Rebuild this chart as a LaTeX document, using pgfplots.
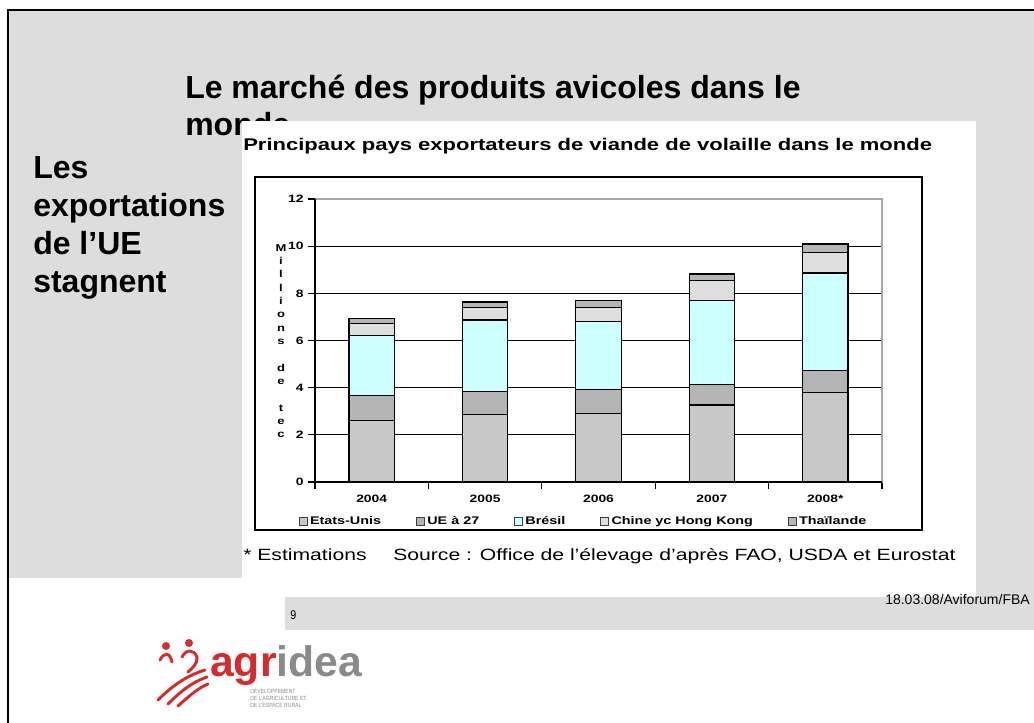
\documentclass[border=0pt]{standalone}
\usepackage{fontspec}
\setmainfont{Liberation Sans}
\newfontfamily\chartfont[FakeStretch=1.3]{Liberation Sans}
\newfontfamily\narrowfont[FakeStretch=0.85]{Liberation Sans}
\usepackage{pgfplots}
\pgfplotsset{compat=1.18}
\definecolor{slidegray}{HTML}{DDDDDD}
\definecolor{cUS}{HTML}{C8C8C8}
\definecolor{cUE}{HTML}{B4B4B4}
\definecolor{cBR}{HTML}{CCFFFF}
\definecolor{cCN}{HTML}{DEDEDE}
\definecolor{cTH}{HTML}{B6B6B6}
\definecolor{logored}{HTML}{D52B2B}
\definecolor{logogray}{HTML}{8A8A8A}
\begin{document}
\begin{tikzpicture}[x=0.75pt,y=-0.75pt]
\fill[white] (0,0) rectangle (1034,722);
\useasboundingbox (0,0) rectangle (1034,722);
% slide background
\fill[slidegray] (8,10) rectangle (1034,578);
\fill[slidegray] (976,578) rectangle (1034,597);
\fill[slidegray] (285,597) rectangle (1034,630);
\draw[black,line width=1.5pt] (8,723) -- (8,10) -- (1035,10);
% slide titles (base anchor = baseline of last line)
\node[anchor=base west,inner sep=0pt,align=left,font=\bfseries\fontsize{24}{27.75}\selectfont] at (185,135)
  {Le marché des produits avicoles dans le\\monde};
\node[anchor=base west,inner sep=0pt,align=left,font=\bfseries\fontsize{24}{28.5}\selectfont] at (33,292)
  {Les\\exportations\\de l’UE\\stagnent};
% chart picture
\fill[white] (242,121) rectangle (976,578);
\draw[black,line width=1.1pt] (255,177) rectangle (922,530);
\node[anchor=base west,inner sep=0pt,font=\chartfont\bfseries\fontsize{12.7}{14}\selectfont] at (243,150)
  {Principaux pays exportateurs de viande de volaille dans le monde};
\node[anchor=base west,inner sep=0pt,font=\chartfont\fontsize{12.2}{14}\selectfont] at (243,560)
  {* Estimations\hspace{20pt}Source : Office de l’élevage d’après FAO, USDA et Eurostat};
\node[inner sep=0pt,align=center,font=\chartfont\bfseries\fontsize{7.5}{10}\selectfont] at (281,341)
  {M\\i\\l\\l\\i\\o\\n\\s\\\strut\\d\\e\\\strut\\t\\e\\c};
\coordinate (O) at (315,482);
\begin{axis}[
  at={(O)}, anchor=south west,
  scale only axis, width=425.25pt, height=212.25pt,
  ybar stacked, bar width=0.4,
  legend image code/.code={\draw[#1,draw=black!75,line width=0.6pt] (0pt,-3pt) rectangle (6pt,3pt);},
  xmin=-0.5, xmax=4.5, ymin=0, ymax=12,
  xtick={0,1,2,3,4}, xticklabels={2004,2005,2006,2007,2008*},
  major x tick style={draw=none},
  minor xtick={-0.5,0.5,1.5,2.5,3.5,4.5},
  minor x tick style={black,line width=0.8pt},
  ytick={0,2,4,6,8,10}, extra y ticks={12}, extra y tick style={grid=none},
  ymajorgrids, grid style={black,line width=0.8pt},
  tick pos=left,
  tick align=outside, major tick length=5pt, minor tick length=5pt,
  y tick style={black,line width=0.8pt},
  axis line style={draw=gray!70,line width=0.8pt},
  tick label style={font=\chartfont\bfseries\fontsize{8}{9}\selectfont},
  /pgf/number format/assume math mode=true,
  xticklabel style={yshift=-1pt},
  clip=false,
  legend columns=5,
  legend style={at={(0.474,-0.138)},anchor=center,draw=none,fill=none,
    font=\chartfont\bfseries\fontsize{8.3}{10}\selectfont,
    /tikz/every even column/.append style={column sep=24pt}},
]
\addplot[fill=cUS,draw=black,line width=1pt] coordinates {(0,2.62) (1,2.86) (2,2.90) (3,3.27) (4,3.80)};
\addplot[fill=cUE,draw=black,line width=1pt] coordinates {(0,1.05) (1,0.99) (2,1.01) (3,0.86) (4,0.93)};
\addplot[fill=cBR,draw=black,line width=1pt] coordinates {(0,2.55) (1,3.02) (2,2.90) (3,3.56) (4,4.13)};
\addplot[fill=cCN,draw=black,line width=1pt] coordinates {(0,0.49) (1,0.52) (2,0.59) (3,0.85) (4,0.88)};
\addplot[fill=cTH,draw=black,line width=1pt] coordinates {(0,0.23) (1,0.24) (2,0.30) (3,0.28) (4,0.35)};
\legend{Etats-Unis,UE à 27,Brésil,Chine yc Hong Kong,Thaïlande}
\draw[black,line width=1pt] (rel axis cs:0,1) -- (rel axis cs:0,0) -- (rel axis cs:1,0);
\end{axis}
% footer
\node[anchor=base west,inner sep=0pt,font=\narrowfont\fontsize{9.5}{11}\selectfont] at (290,619) {9};
\node[anchor=base east,inner sep=0pt,font=\fontsize{10.5}{12}\selectfont] at (1030,604) {18.03.08/Aviforum/FBA};
% logo
\begin{scope}[logored,line width=2.2pt,line cap=round]
  \fill (166,646) circle (4);
  \fill (189,643) circle (4);
  \draw (160,660) .. controls (164,652) and (170,652) .. (172,662);
  \draw (182,657) .. controls (186,649) and (194,649) .. (197,657) .. controls (198,664) and (192,668) .. (188,672);
  \draw (158,700) .. controls (170,688) and (185,676) .. (205,670);
  \draw (168,704) .. controls (180,692) and (192,682) .. (207,677);
  \draw (178,706) .. controls (188,697) and (198,688) .. (208,684);
\end{scope}
\node[anchor=base west,inner sep=0pt,font=\bfseries\fontsize{32}{34}\selectfont] at (210,676)
  {\textcolor{logored}{agr}\textcolor{logogray}{idea}};
\node[anchor=base west,inner sep=0pt,align=left,text=logogray,font=\narrowfont\fontsize{4.5}{5.2}\selectfont] at (250,707)
  {DÉVELOPPEMENT\\DE L’AGRICULTURE ET\\DE L’ESPACE RURAL};
\end{tikzpicture}
\end{document}
